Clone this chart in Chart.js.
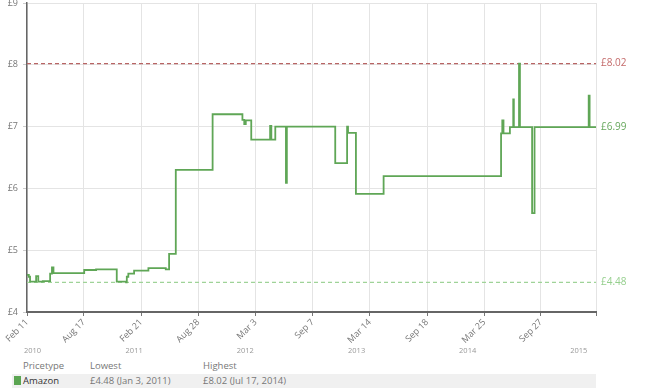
<!DOCTYPE html>
<html>
<head>
<meta charset="utf-8">
<script src="https://cdn.jsdelivr.net/npm/chart.js@4"></script>
<style>
  html,body{margin:0;padding:0;background:#fff;width:650px;height:392px;overflow:hidden;font-family:"Open Sans",sans-serif;}
  #wrap{position:relative;width:650px;height:392px;}
  canvas{position:absolute;left:0;top:0;}
  .t{position:absolute;font-size:9.5px;color:#777;white-space:nowrap;line-height:12px;}
  #rowbg{position:absolute;left:12px;top:374px;width:584px;height:14px;background:#f0f0f0;}
  #sw{position:absolute;left:14px;top:376px;width:7px;height:9px;background:#5ba552;}
</style>
</head>
<body>
<div id="wrap">
  <canvas id="c" width="650" height="358"></canvas>
  <div class="t" style="left:23px;top:360px;">Pricetype</div>
  <div class="t" style="left:90px;top:360px;">Lowest</div>
  <div class="t" style="left:203px;top:360px;">Highest</div>
  <div id="rowbg"></div>
  <div id="sw"></div>
  <div class="t" style="left:23px;top:375px;color:#333;">Amazon</div>
  <div class="t" style="left:90px;top:375px;">£4.48 (Jan 3, 2011)</div>
  <div class="t" style="left:203px;top:375px;">£8.02 (Jul 17, 2014)</div>
</div>
<script>
// ---- data ----
const startDate = '2010-02-11';
const endDate = '2015-03-27';
const priceDates = [
  '2010-02-11','2010-02-17','2010-02-21','2010-03-13','2010-03-20','2010-04-04',
  '2010-04-28','2010-05-04','2010-05-09','2010-08-18','2010-09-26','2010-12-03',
  '2011-01-03','2011-01-05','2011-01-10','2011-01-29','2011-03-17','2011-05-13',
  '2011-05-24','2011-06-15','2011-10-14','2012-01-20','2012-01-26','2012-01-31',
  '2012-02-18','2012-04-20','2012-04-24','2012-05-07','2012-06-11','2012-06-14',
  '2012-11-20','2012-12-29','2013-01-01','2013-01-27','2013-04-28','2014-05-19',
  '2014-05-23','2014-05-27','2014-06-17','2014-06-28','2014-06-30','2014-07-17',
  '2014-07-20','2014-08-29','2014-09-06','2015-03-03','2015-03-06','2015-03-27'
];
const amazonPrices = [
  4.60,4.57,4.49,4.58,4.49,4.50,
  4.62,4.72,4.63,4.68,4.69,4.49,
  4.48,4.57,4.62,4.67,4.71,4.69,
  4.94,6.30,7.20,7.11,7.04,7.10,
  6.79,7.01,6.79,7.00,6.09,7.00,
  6.41,7.00,6.90,5.91,6.20,6.89,
  7.10,6.89,6.99,7.44,6.99,8.02,
  6.99,5.60,6.99,7.50,6.99,6.99
];
const highestPrice = 8.02;
const lowestPrice = 4.48;
const currentPrice = 6.99;
const tickDates = ['2010-02-11','2010-08-17','2011-02-21','2011-08-28','2012-03-03',
                   '2012-09-07','2013-03-14','2013-09-18','2014-03-25','2014-09-27'];
const tickLabels = ['Feb 11','Aug 17','Feb 21','Aug 28','Mar 3','Sep 7','Mar 14','Sep 18','Mar 25','Sep 27'];
const yearDates = ['2010-01-01','2011-01-01','2012-01-01','2013-01-01','2014-01-01','2015-01-01'];
const yearLabels = ['2010','2011','2012','2013','2014','2015'];
const yTicks = [4,5,6,7,8,9];

// ---- helpers ----
function dayNum(s){
  const p = s.split('-').map(Number);
  const q = startDate.split('-').map(Number);
  return (Date.UTC(p[0],p[1]-1,p[2]) - Date.UTC(q[0],q[1]-1,q[2]))/86400000;
}
const xMin = 0, xMax = dayNum(endDate);
const linePts = priceDates.map((d,i)=>({x:dayNum(d), y:amazonPrices[i]}));
const tickVals = tickDates.map(dayNum);

const FONT = '"Open Sans", sans-serif';

const extras = {
  id:'extras',
  afterDraw(chart){
    const ctx = chart.ctx, xs = chart.scales.x, ys = chart.scales.y, ca = chart.chartArea;
    ctx.save();
    ctx.font = '10px ' + FONT;
    ctx.textBaseline = 'middle';
    ctx.textAlign = 'left';
    const rl = [[highestPrice,'#c46b6b'],[currentPrice,'#67a85d'],[lowestPrice,'#95cf8d']];
    rl.forEach(([v,c])=>{
      ctx.fillStyle = c;
      ctx.fillText('£'+v.toFixed(2), ca.right + 5, ys.getPixelForValue(v));
    });
    ctx.font = '7.5px ' + FONT;
    ctx.fillStyle = '#999';
    yearDates.forEach((d,i)=>{
      let px = xs.getPixelForValue(dayNum(d));
      if (px < ca.left) px = ca.left - 3;
      ctx.fillText(yearLabels[i], px, 351);
    });
    ctx.restore();
  }
};

new Chart(document.getElementById('c'), {
  type:'line',
  data:{
    datasets:[
      {data:linePts, borderColor:'#5fa656', borderWidth:1.8, pointRadius:0, stepped:true, fill:false},
      {data:[{x:xMin,y:highestPrice},{x:xMax,y:highestPrice}], borderColor:'#b86464', borderWidth:1.2, borderDash:[4,3], pointRadius:0},
      {data:[{x:xMin,y:lowestPrice},{x:xMax,y:lowestPrice}], borderColor:'#9fd398', borderWidth:1.2, borderDash:[4,3], pointRadius:0}
    ]
  },
  options:{
    responsive:false,
    animation:false,
    layout:{padding:{top:3,right:54,bottom:0,left:0}},
    plugins:{legend:{display:false}, tooltip:{enabled:false}},
    scales:{
      x:{
        type:'linear', min:xMin, max:xMax,
        afterBuildTicks:(s)=>{ s.ticks = tickVals.map(v=>({value:v})).concat([{value:xMax}]); },
        afterFit:(s)=>{ s.height = 46; s.paddingLeft = 0; s.paddingRight = 0; },
        ticks:{
          autoSkip:false, minRotation:45, maxRotation:45, padding:1,
          color:'#777', font:{family:FONT, size:9},
          callback:(v,i)=> i < tickLabels.length ? tickLabels[i] : ''
        },
        grid:{color:'#e4e4e4', tickColor:'#777', tickLength:4, lineWidth:1},
        border:{color:'#666', width:2}
      },
      y:{
        min:4, max:9,
        afterBuildTicks:(s)=>{ s.ticks = yTicks.map(v=>({value:v})); },
        afterFit:(s)=>{ s.width = 27; s.paddingTop = 0; s.paddingBottom = 0; },
        ticks:{color:'#777', font:{family:FONT, size:9}, padding:5, callback:(v)=>'£'+v},
        grid:{color:'#e4e4e4', tickColor:'#ccc', tickLength:4},
        border:{color:'#666', width:1.5}
      }
    }
  },
  plugins:[extras]
});
</script>
</body>
</html>
